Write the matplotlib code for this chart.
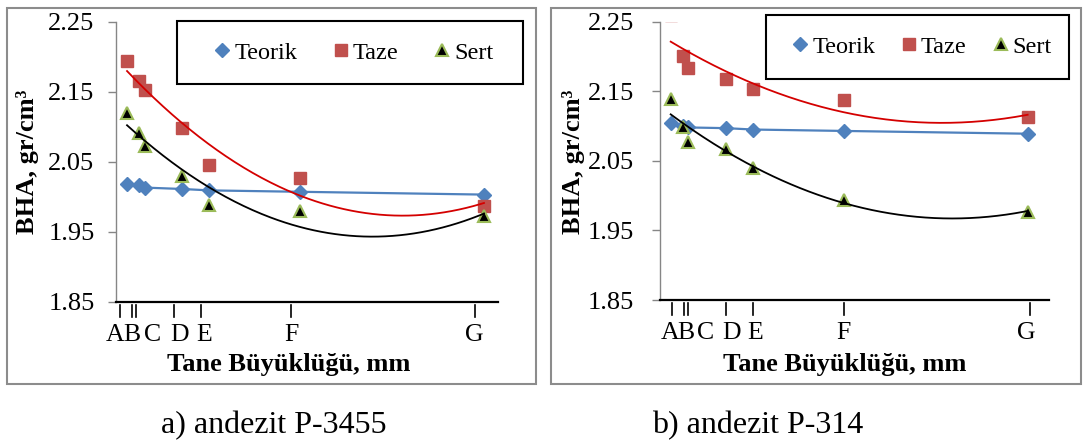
import numpy as np
import matplotlib.pyplot as plt
from matplotlib.patches import Rectangle
from matplotlib.lines import Line2D
from matplotlib.transforms import blended_transform_factory

plt.rcParams['font.family'] = ['Liberation Serif', 'DejaVu Serif']

# grain size (mm) for classes A..G
size_mm = [1.5, 3.15, 3.9, 9.0, 12.7, 25.0, 50.0]
class_labels = ['A', 'B', 'C', 'D', 'E', 'F', 'G']

# a) andezit P-3455
a_teorik = [2.018, 2.016, 2.013, 2.011, 2.009, 2.007, 2.003]
a_taze = [2.194, 2.165, 2.152, 2.098, 2.045, 2.026, 1.987]
a_sert = [2.120, 2.091, 2.072, 2.030, 1.988, 1.980, 1.972]
a_tick_pos = [0.55, 2.15, 2.7, 7.9, 11.55, 23.8, 48.8]
a_label_pos = [-0.1, 2.2, 5.0, 8.7, 12.0, 23.9, 48.7]

# b) andezit P-314 (Taze at A lies above 2.25, clipped off the plot)
b_teorik = [2.104, 2.100, 2.098, 2.097, 2.095, 2.093, 2.089]
b_taze = [2.260, 2.200, 2.184, 2.168, 2.153, 2.137, 2.113]
b_sert = [2.139, 2.099, 2.077, 2.067, 2.040, 1.994, 1.977]
b_tick_pos = [1.7, 3.25, 3.8, 9.05, 12.7, 25.0, 50.3]
b_label_pos = [1.4, 3.6, 6.2, 9.8, 13.0, 25.0, 49.8]

yticks = [1.85, 1.95, 2.05, 2.15, 2.25]

BLUE = '#4f81bd'
RED = '#c0504d'
GREEN = '#9bbb59'
GRAY = '#868686'


def trend(x, y):
    coef = np.polyfit(x, y, 2)
    xs = np.linspace(min(x), max(x), 200)
    return xs, np.polyval(coef, xs)


def panel(ax, teorik, taze, sert, tick_pos, label_pos, xmax, pad):
    ax.plot(size_mm, teorik, color=BLUE, lw=1.6, marker='D', ms=7.5,
            mfc=BLUE, mec=BLUE, zorder=3)
    ax.plot(size_mm, taze, ls='none', marker='s', ms=8.5, mfc=RED, mec=RED, zorder=3)
    ax.plot(size_mm, sert, ls='none', marker='^', ms=8.5, mfc='black', mec=GREEN,
            mew=1.5, zorder=3)
    xs, ys = trend(size_mm, taze)
    ax.plot(xs, ys, color='#d40000', lw=1.3, zorder=4)
    xs, ys = trend(size_mm, sert)
    ax.plot(xs, ys, color='black', lw=1.3, zorder=4)

    ax.set_xlim(0, xmax)
    ax.set_ylim(1.85, 2.25)
    ax.set_yticks(yticks)
    ax.set_yticklabels([f'{v:.2f}' for v in yticks])
    ax.tick_params(axis='y', length=6, width=1, color=GRAY, pad=pad, labelsize=19)
    ax.set_xticks([])
    for s in ['top', 'right']:
        ax.spines[s].set_visible(False)
    ax.spines['left'].set_color(GRAY)
    ax.spines['left'].set_linewidth(1)
    ax.spines['bottom'].set_color('black')
    ax.spines['bottom'].set_linewidth(1.6)

    tr = blended_transform_factory(ax.transData, ax.transAxes)
    for xp in tick_pos:
        ax.plot([xp, xp], [-0.012, -0.055], color='black', lw=1.2,
                transform=tr, clip_on=False)
    for xp, lab in zip(label_pos, class_labels):
        ax.text(xp, -0.119, lab, transform=tr, ha='center', va='center', fontsize=18.5)


fig = plt.figure(figsize=(10.83, 4.41), dpi=100)

# panel frames
for x0, x1 in [(7, 536), (551, 1081)]:
    fig.patches.append(Rectangle((x0 / 1083, 1 - 384 / 441), (x1 - x0) / 1083, 376 / 441,
                                 transform=fig.transFigure, fill=False,
                                 edgecolor='#8c8c8c', lw=1.5))

ax1 = fig.add_axes([0.1071, 0.3159, 0.3527, 0.6349])
panel(ax1, a_teorik, a_taze, a_sert, a_tick_pos, a_label_pos, 51.9, 9.5)
ax2 = fig.add_axes([0.6091, 0.3197, 0.3595, 0.6311])
panel(ax2, b_teorik, b_taze, b_sert, b_tick_pos, b_label_pos, 52.9, 12.5)

# legend boxes
handles = [Line2D([], [], ls='none', marker='D', ms=7.5, mfc=BLUE, mec=BLUE),
           Line2D([], [], ls='none', marker='s', ms=8.5, mfc=RED, mec=RED),
           Line2D([], [], ls='none', marker='^', ms=8.5, mfc='black', mec=GREEN, mew=1.5)]
names = ['Teorik', 'Taze', 'Sert']
for box, anchor, colsp in [((177, 20.7, 522.6, 84), (215, 52.5), 1.5),
                           ((766.2, 15, 1069, 79), (793, 46.7), 1.1)]:
    x0, y0, x1, y1 = box
    fig.patches.append(Rectangle((x0 / 1083, 1 - y1 / 441), (x1 - x0) / 1083, (y1 - y0) / 441,
                                 transform=fig.transFigure, facecolor='white',
                                 edgecolor='black', lw=1.5, zorder=5))
    leg = fig.legend(handles, names, ncol=3, frameon=False, fontsize=17.5,
                     loc='center left', bbox_to_anchor=(anchor[0] / 1083, 1 - anchor[1] / 441),
                     borderpad=0, borderaxespad=0, handlelength=0.6, handletextpad=0.19,
                     columnspacing=colsp)
    leg.set_zorder(6)

# axis titles
for xc in [27.5, 573]:
    fig.text(xc / 1083, 1 - 161.7 / 441, 'BHA, gr/cm³', rotation=90, ha='center',
             va='center', fontsize=19, fontweight='bold')
for xc in [289, 845]:
    fig.text(xc / 1083, 1 - 371 / 441, 'Tane Büyüklüğü, mm', ha='center',
             va='baseline', fontsize=19, fontweight='bold')

# captions
fig.text(274 / 1083, 1 - 433 / 441, 'a) andezit P-3455', ha='center', va='baseline', fontsize=23)
fig.text(758 / 1083, 1 - 433 / 441, 'b) andezit P-314', ha='center', va='baseline', fontsize=23)

fig.savefig('out.png', dpi=100)
